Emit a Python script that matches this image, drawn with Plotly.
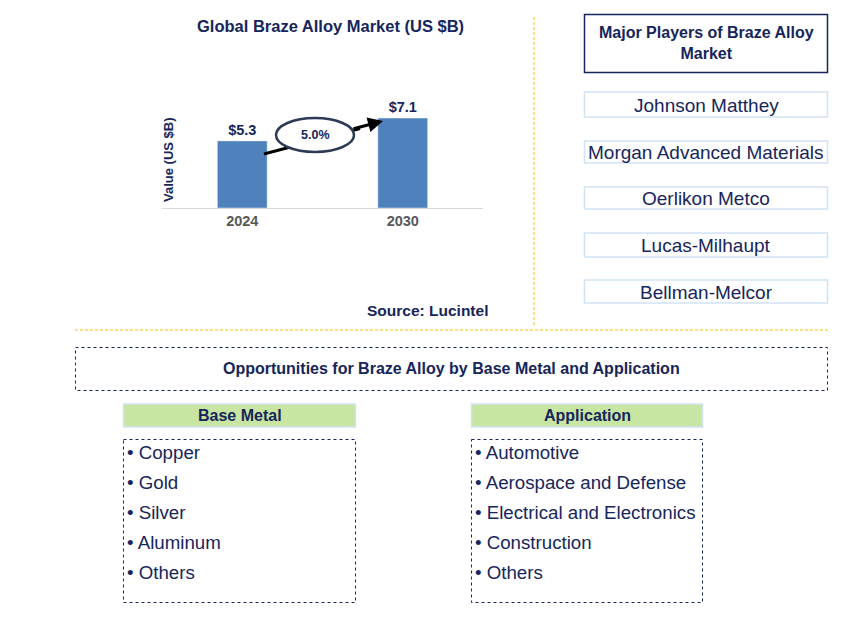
import plotly.graph_objects as go

# ---------------- data ----------------
years = ["2024", "2030"]
values = [5.3, 7.1]
cagr = "5.0%"
chart_title = "Global Braze Alloy Market (US $B)"
y_title = "Value (US $B)"
source = "Source: Lucintel"
players_title = "Major Players of Braze Alloy<br>Market"
players = ["Johnson Matthey", "Morgan Advanced Materials", "Oerlikon Metco",
           "Lucas-Milhaupt", "Bellman-Melcor"]
opp_title = "Opportunities for Braze Alloy by Base Metal and Application"
base_metal_title = "Base Metal"
base_metal = ["Copper", "Gold", "Silver", "Aluminum", "Others"]
application_title = "Application"
application = ["Automotive", "Aerospace and Defense", "Electrical and Electronics",
               "Construction", "Others"]

OFF = 8  # page body margin
W, H = 868 - OFF, 643 - OFF
NAVY = "#16255B"
FONT = "Liberation Sans, Arial, sans-serif"


def X(px):
    return (px - OFF) / W


def Y(py):
    return 1 - (py - OFF) / H


def text_ann(x, y, text, size, color=NAVY, xanchor="center", **kw):
    d = dict(xref="paper", yref="paper", x=X(x), y=Y(y), text=text, showarrow=False,
             xanchor=xanchor, yanchor="middle",
             font=dict(size=size, color=color, family=FONT))
    d.update(kw)
    return d


fig = go.Figure()
fig.add_trace(go.Bar(
    x=years, y=values, width=0.31, marker_color="#4F81BD",
    text=[f"<b>${v}</b>" for v in values], textposition="outside",
    textfont=dict(family=FONT, size=14.5, color=NAVY), cliponaxis=False,
    hoverinfo="skip",
))

base_px, top_px = 208, 78
px_per_unit = 12.66
fig.update_layout(
    width=W, height=H, margin=dict(l=0, r=0, t=0, b=0),
    paper_bgcolor="white", plot_bgcolor="white", showlegend=False,
    xaxis=dict(domain=[X(162), X(483)], range=[-0.5, 1.5], showgrid=False,
               showline=True, linecolor="#D9D9D9", linewidth=1, ticks="",
               tickfont=dict(family=FONT, size=14.5, color="#595959"),
               tickprefix="<b>", ticksuffix="</b>", fixedrange=True),
    yaxis=dict(domain=[Y(base_px), Y(top_px)],
               range=[0, (base_px - top_px) / px_per_unit],
               showgrid=False, showticklabels=False, zeroline=False,
               showline=False, fixedrange=True),
    font=dict(family=FONT, color=NAVY),
)

shapes = []
ann = []

# arrow line (behind ellipse)
shapes.append(dict(type="line", xref="paper", yref="paper",
                   x0=X(264), y0=Y(154), x1=X(360), y1=Y(128.5),
                   line=dict(color="black", width=3)))
# ellipse
shapes.append(dict(type="circle", xref="paper", yref="paper",
                   x0=X(276), x1=X(354), y0=Y(152), y1=Y(118),
                   fillcolor="white", line=dict(color="#2B3A55", width=2.5)))
ann.append(dict(xref="paper", yref="paper", x=X(383), y=Y(121),
                ax=-31, ay=8.2, axref="pixel", ayref="pixel",
                text="", showarrow=True, arrowhead=2, arrowsize=1,
                arrowwidth=3, arrowcolor="black", standoff=0, startstandoff=0))
ann.append(text_ann(315, 135, f"<b>{cagr}</b>", 12.5))

# titles
ann.append(text_ann(330, 26, f"<b>{chart_title}</b>", 16.5))
ann.append(text_ann(168, 160, f"<b>{y_title}</b>", 13, textangle=-90))
ann.append(text_ann(427, 310, f"<b>{source}</b>", 15.5))

# divider lines
shapes.append(dict(type="line", xref="paper", yref="paper", x0=X(534), x1=X(534),
                   y0=Y(17), y1=Y(327), line=dict(color="#FFC000", width=1, dash="3px,2px")))
shapes.append(dict(type="line", xref="paper", yref="paper", x0=X(75), x1=X(828),
                   y0=Y(330), y1=Y(330), line=dict(color="#FFC000", width=1, dash="3px,2px")))

# players panel
shapes.append(dict(type="rect", xref="paper", yref="paper", x0=X(584.5), x1=X(827.5),
                   y0=Y(14.5), y1=Y(72.5), line=dict(color=NAVY, width=1.5)))
ann.append(text_ann(706, 43, f"<b>{players_title}</b>", 16))
player_boxes = [(92, 117), (141, 163), (187, 209), (233, 257), (280, 303)]
for name, (t, b) in zip(players, player_boxes):
    shapes.append(dict(type="rect", xref="paper", yref="paper", x0=X(584.5), x1=X(827.5),
                       y0=Y(t), y1=Y(b), line=dict(color="#CFE3F3", width=1.5)))
    ann.append(text_ann(706, (t + b) / 2 + 0.5, name, 19))

# opportunities box
shapes.append(dict(type="rect", xref="paper", yref="paper", x0=X(75.5), x1=X(827.5),
                   y0=Y(347.5), y1=Y(390.5), line=dict(color=NAVY, width=1, dash="dot")))
ann.append(text_ann(451, 368, f"<b>{opp_title}</b>", 16))

# lists
for (x0, x1, title, items) in [(123, 356, base_metal_title, base_metal),
                               (471, 703, application_title, application)]:
    shapes.append(dict(type="rect", xref="paper", yref="paper", x0=X(x0 + 0.5), x1=X(x1 - 0.5),
                       y0=Y(404), y1=Y(427), fillcolor="#C8E6A2",
                       line=dict(color="#CFE3F3", width=1.5)))
    ann.append(text_ann((x0 + x1) / 2, 415.5, f"<b>{title}</b>", 16))
    shapes.append(dict(type="rect", xref="paper", yref="paper", x0=X(x0 + 0.5), x1=X(x1 - 0.5),
                       y0=Y(439.5), y1=Y(602.5), line=dict(color=NAVY, width=1, dash="dot")))
    for i, it in enumerate(items):
        ann.append(text_ann(x0 + 2, 452.5 + 30 * i, f"• {it}", 18.7, xanchor="left"))

fig.update_layout(shapes=shapes, annotations=ann)
fig.write_html("out.html")
